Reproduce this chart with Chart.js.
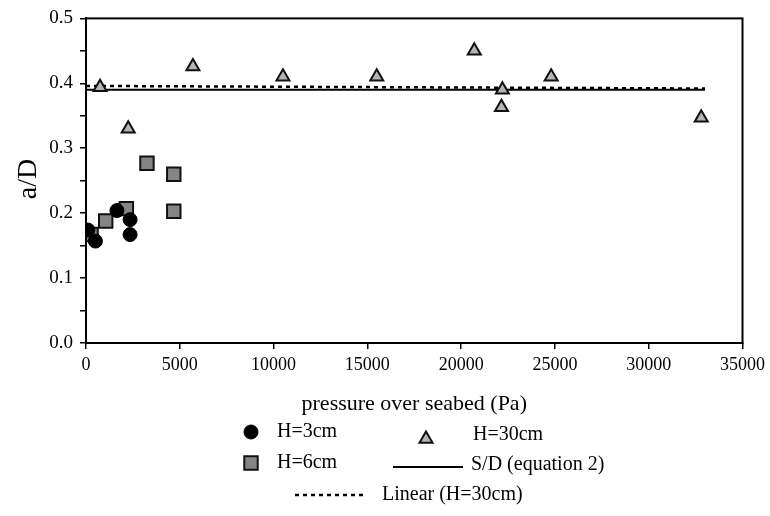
<!DOCTYPE html>
<html>
<head>
<meta charset="utf-8">
<script src="https://cdn.jsdelivr.net/npm/chart.js@4/dist/chart.umd.min.js"></script>
<style>
  html, body { margin: 0; padding: 0; background: #fff; }
  #wrap { width: 770px; height: 516px; }
</style>
</head>
<body>
<div id="wrap"><canvas id="chart" width="770" height="516"></canvas></div>
<script>
// Données (pression en Pa, a/D)
const h3Pressure = [100, 500, 1650, 2350, 2350];
const h3Ratio = [0.174, 0.157, 0.204, 0.190, 0.167];

const h6Pressure = [270, 1050, 2150, 3250, 4680, 4680];
const h6Ratio = [0.167, 0.188, 0.207, 0.277, 0.260, 0.203];

const h30Pressure = [750, 2250, 5700, 10500, 15500, 20700, 22200, 22150, 24800, 32800];
const h30Ratio = [0.394, 0.330, 0.426, 0.410, 0.410, 0.450, 0.390, 0.363, 0.410, 0.347];

const sdPressure = [0, 33000];
const sdRatio = [0.390, 0.390];

const linPressure = [0, 33000];
const linRatio = [0.396, 0.392];

const xTicks = [0, 5000, 10000, 15000, 20000, 25000, 30000, 35000];

const serif = "'Liberation Serif', 'Times New Roman', serif";

function toPoints(xs, ys) {
    return xs.map((x, i) => ({ x: x, y: ys[i] }));
}

const datasets = [
    {
        label: 'H=3cm',
        data: toPoints(h3Pressure, h3Ratio),
        pointStyle: 'circle',
        pointRadius: 7,
        backgroundColor: '#000',
        borderColor: '#000',
        borderWidth: 1,
        showLine: false
    },
    {
        label: 'H=6cm',
        data: toPoints(h6Pressure, h6Ratio),
        pointStyle: 'rect',
        pointRadius: 9.5,
        backgroundColor: '#858585',
        borderColor: '#111',
        borderWidth: 2,
        showLine: false
    },
    {
        label: 'H=30cm',
        data: toPoints(h30Pressure, h30Ratio),
        pointStyle: 'triangle',
        pointRadius: 7.5,
        backgroundColor: '#b4b4b4',
        borderColor: '#111',
        borderWidth: 2,
        showLine: false
    },
    {
        label: 'S/D (equation 2)',
        data: toPoints(sdPressure, sdRatio),
        showLine: true,
        pointRadius: 0,
        borderColor: '#000',
        borderWidth: 2,
        order: 5
    },
    {
        label: 'Linear (H=30cm)',
        data: toPoints(linPressure, linRatio),
        showLine: true,
        pointRadius: 0,
        borderColor: '#000',
        borderWidth: 2.5,
        borderDash: [4, 4],
        order: 6
    }
];

// Cadre, titres d'axes et légende dessinés à la main
const decorPlugin = {
    id: 'decor',
    afterDraw(chart) {
        const ctx = chart.ctx;
        const a = chart.chartArea;
        ctx.save();

        // cadre du graphique
        ctx.strokeStyle = '#000';
        ctx.lineWidth = 2;
        ctx.strokeRect(a.left, a.top, a.right - a.left, a.bottom - a.top);

        ctx.fillStyle = '#000';
        ctx.textBaseline = 'middle';

        // titre de l'axe x
        ctx.font = '22px ' + serif;
        ctx.textAlign = 'center';
        ctx.fillText('pressure over seabed (Pa)', (a.left + a.right) / 2, 404);

        // titre de l'axe y
        ctx.save();
        ctx.translate(29, 179);
        ctx.rotate(-Math.PI / 2);
        ctx.font = '28px ' + serif;
        ctx.fillText('a/D', 0, 0);
        ctx.restore();

        // légende
        const ds = chart.data.datasets;
        const drawMark = (d, x, y) => {
            ctx.fillStyle = d.backgroundColor;
            ctx.strokeStyle = d.borderColor;
            ctx.lineWidth = d.borderWidth;
            Chart.helpers.drawPoint(ctx, {
                pointStyle: d.pointStyle,
                radius: d.pointRadius,
                rotation: 0,
                borderWidth: d.borderWidth
            }, x, y);
        };
        const drawLine = (d, x1, x2, y) => {
            ctx.strokeStyle = d.borderColor;
            ctx.lineWidth = d.borderWidth;
            ctx.setLineDash(d.borderDash || []);
            ctx.beginPath();
            ctx.moveTo(x1, y);
            ctx.lineTo(x2, y);
            ctx.stroke();
            ctx.setLineDash([]);
        };

        drawMark(ds[0], 251, 432);
        drawMark(ds[1], 251, 463);
        drawMark(ds[2], 426, 439);
        drawLine(ds[3], 393, 463, 467);
        drawLine(ds[4], 295, 366, 495);

        ctx.fillStyle = '#000';
        ctx.font = '20px ' + serif;
        ctx.textAlign = 'left';
        ctx.fillText(ds[0].label, 277, 432);
        ctx.fillText(ds[1].label, 277, 463);
        ctx.fillText(ds[2].label, 473, 435);
        ctx.fillText(ds[3].label, 471, 465);
        ctx.fillText(ds[4].label, 382, 495);

        ctx.restore();
    }
};

new Chart(document.getElementById('chart'), {
    type: 'scatter',
    data: { datasets: datasets },
    options: {
        responsive: false,
        animation: false,
        layout: { padding: { left: 0, top: 13, right: 25, bottom: 0 } },
        plugins: {
            legend: { display: false },
            tooltip: { enabled: false }
        },
        scales: {
            x: {
                type: 'linear',
                min: 0,
                max: 35000,
                afterFit(scale) { scale.height = 173; },
                afterBuildTicks(scale) {
                    scale.ticks = xTicks.map(v => ({ value: v }));
                },
                ticks: {
                    color: '#000',
                    font: { family: serif, size: 18 },
                    padding: 5,
                    maxRotation: 0,
                    callback: v => String(v)
                },
                grid: {
                    drawOnChartArea: false,
                    drawTicks: true,
                    tickLength: 6,
                    color: '#000',
                    lineWidth: 1.5
                },
                border: { display: true, color: '#000', width: 2 }
            },
            y: {
                type: 'linear',
                min: 0,
                max: 0.5,
                afterFit(scale) { scale.width = 86; },
                ticks: {
                    stepSize: 0.05,
                    color: '#000',
                    font: { family: serif, size: 19 },
                    padding: 7,
                    callback: v => (Math.round(v * 100) % 10 === 0 ? v.toFixed(1) : '')
                },
                grid: {
                    drawOnChartArea: false,
                    drawTicks: true,
                    tickLength: 6,
                    color: '#000',
                    lineWidth: 1.5
                },
                border: { display: true, color: '#000', width: 2 }
            }
        }
    },
    plugins: [decorPlugin]
});
</script>
</body>
</html>
